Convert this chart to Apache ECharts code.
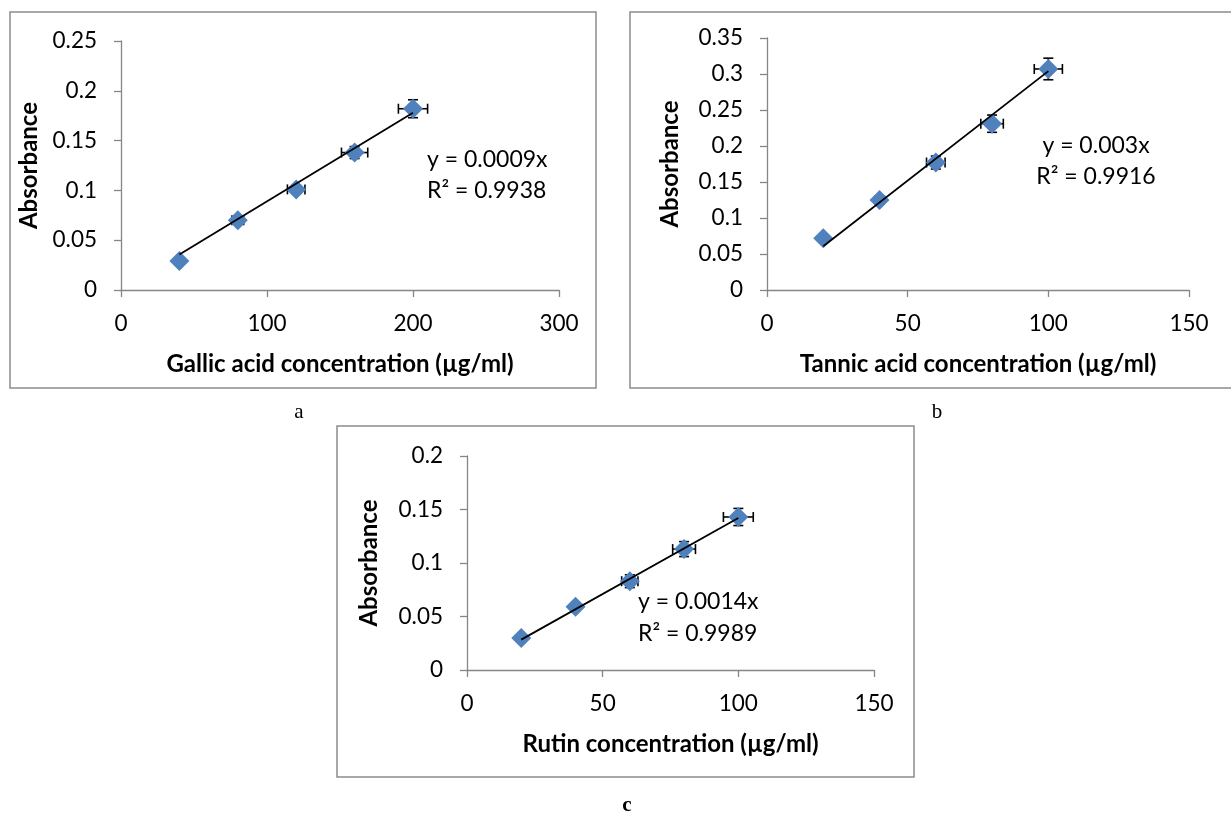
<!DOCTYPE html>
<html>
<head>
<meta charset="utf-8">
<script src="https://cdn.jsdelivr.net/npm/echarts@6/dist/echarts.min.js"></script>
<style>
html, body { margin: 0; padding: 0; background: #fff; }
#chart { width: 1231px; height: 816px; }
</style>
</head>
<body>
<div id="chart"></div>
<script>
// a - gallic acid
var gallicX = [40, 80, 120, 160, 200];
var gallicY = [0.029, 0.070, 0.101, 0.138, 0.182];
var gallicXErr = [0, 4, 6, 9, 10];
var gallicYErr = [0, 0.003, 0.004, 0.006, 0.009];
var gallicSlope = 0.00089;

// b - tannic acid
var tannicX = [20, 40, 60, 80, 100];
var tannicY = [0.072, 0.125, 0.177, 0.231, 0.307];
var tannicXErr = [0, 1.5, 3.3, 4, 5];
var tannicYErr = [0, 0.005, 0.009, 0.012, 0.015];
var tannicSlope = 0.00304;

// c - rutin
var rutinX = [20, 40, 60, 80, 100];
var rutinY = [0.030, 0.059, 0.083, 0.113, 0.143];
var rutinXErr = [0, 1, 3, 4.2, 5.5];
var rutinYErr = [0, 0.003, 0.006, 0.007, 0.008];
var rutinSlope = 0.00142;

var chart = echarts.init(document.getElementById('chart'));

var FONT = 'Lato';
var axisGray = '#868686';
var blue = '#4F81BD';

function xAxisOf(idx, max, interval, name) {
    return {
        type: 'value', gridIndex: idx, min: 0, max: max, interval: interval,
        name: name, nameLocation: 'middle', nameGap: 62,
        nameTextStyle: { fontFamily: FONT, fontWeight: 'bold', fontSize: 24, color: '#000' },
        axisLine: { show: true, lineStyle: { color: axisGray, width: 1.3 } },
        axisTick: { show: true, inside: false, length: 7, lineStyle: { color: axisGray, width: 1.3 } },
        axisLabel: { fontFamily: FONT, fontSize: 22.5, color: '#000', margin: 22 },
        splitLine: { show: false }
    };
}

function yAxisOf(idx, max, interval, gap) {
    return {
        type: 'value', gridIndex: idx, min: 0, max: max, interval: interval,
        name: 'Absorbance', nameLocation: 'middle', nameGap: gap, nameRotate: 90,
        nameTextStyle: { fontFamily: FONT, fontWeight: 'bold', fontSize: 24, color: '#000' },
        axisLine: { show: true, lineStyle: { color: axisGray, width: 1.3 } },
        axisTick: { show: true, inside: false, length: 7, lineStyle: { color: axisGray, width: 1.3 } },
        axisLabel: { fontFamily: FONT, fontSize: 22.5, color: '#000', margin: 24 },
        splitLine: { show: false }
    };
}

function errorBars(idx, xs, ys, xe, ye) {
    return {
        type: 'custom', xAxisIndex: idx, yAxisIndex: idx, z: 2, silent: true,
        data: xs.map(function (x, i) { return [x, ys[i], xe[i], ye[i]]; }),
        renderItem: function (params, api) {
            var x = api.value(0), y = api.value(1), dx = api.value(2), dy = api.value(3);
            var cap = 5;
            var st = { stroke: '#000', lineWidth: 1.6 };
            var kids = [];
            if (dx > 0) {
                var l = api.coord([x - dx, y]), r = api.coord([x + dx, y]);
                kids.push({ type: 'line', shape: { x1: l[0], y1: l[1], x2: r[0], y2: r[1] }, style: st });
                kids.push({ type: 'line', shape: { x1: l[0], y1: l[1] - cap, x2: l[0], y2: l[1] + cap }, style: st });
                kids.push({ type: 'line', shape: { x1: r[0], y1: r[1] - cap, x2: r[0], y2: r[1] + cap }, style: st });
            }
            if (dy > 0) {
                var t = api.coord([x, y + dy]), b = api.coord([x, y - dy]);
                kids.push({ type: 'line', shape: { x1: t[0], y1: t[1], x2: b[0], y2: b[1] }, style: st });
                kids.push({ type: 'line', shape: { x1: t[0] - cap, y1: t[1], x2: t[0] + cap, y2: t[1] }, style: st });
                kids.push({ type: 'line', shape: { x1: b[0] - cap, y1: b[1], x2: b[0] + cap, y2: b[1] }, style: st });
            }
            return { type: 'group', children: kids };
        }
    };
}

function points(idx, xs, ys) {
    return {
        type: 'scatter', xAxisIndex: idx, yAxisIndex: idx, z: 3,
        symbol: 'diamond', symbolSize: 20,
        itemStyle: { color: blue, opacity: 1 },
        data: xs.map(function (x, i) { return [x, ys[i]]; })
    };
}

function trend(idx, xs, slope) {
    var x0 = xs[0], x1 = xs[xs.length - 1];
    return {
        type: 'line', xAxisIndex: idx, yAxisIndex: idx, z: 4,
        symbol: 'none', silent: true,
        lineStyle: { color: '#000', width: 1.8 },
        data: [[x0, slope * x0], [x1, slope * x1]]
    };
}

function frame(x, y, w, h) {
    return { type: 'rect', shape: { x: x, y: y, width: w, height: h },
        style: { fill: null, stroke: '#8c8c8c', lineWidth: 1.5 }, silent: true };
}

function txt(x, y, s, opts) {
    var st = { text: s, x: x, y: y, fill: '#000', font: '23px ' + FONT,
        textAlign: 'left', textVerticalAlign: 'middle' };
    for (var k in opts) st[k] = opts[k];
    return { type: 'text', style: st, silent: true };
}

var option = {
    animation: false,
    backgroundColor: '#fff',
    grid: [
        { left: 121, top: 41, width: 438, height: 249 },
        { left: 767, top: 38, width: 422, height: 252 },
        { left: 467, top: 456, width: 407, height: 214 }
    ],
    xAxis: [
        xAxisOf(0, 300, 100, 'Gallic acid concentration (\u00b5g/ml)'),
        xAxisOf(1, 150, 50, 'Tannic acid concentration (\u00b5g/ml)'),
        xAxisOf(2, 150, 50, 'Rutin concentration (\u00b5g/ml)')
    ],
    yAxis: [
        yAxisOf(0, 0.25, 0.05, 80),
        yAxisOf(1, 0.35, 0.05, 85),
        yAxisOf(2, 0.2, 0.05, 86)
    ],
    graphic: [
        frame(10, 12, 586, 376),
        frame(630, 12, 620, 376),
        frame(337, 426, 577, 351),
        txt(427, 160, 'y = 0.0009x'),
        txt(427, 191, 'R\u00b2 = 0.9938'),
        txt(1096, 146, 'y = 0.003x', { textAlign: 'center' }),
        txt(1096, 177, 'R\u00b2 = 0.9916', { textAlign: 'center' }),
        txt(638, 602, 'y = 0.0014x'),
        txt(638, 634, 'R\u00b2 = 0.9989'),
        txt(299, 412, 'a', { font: '21px "Liberation Serif"', textAlign: 'center' }),
        txt(937, 412, 'b', { font: '21px "Liberation Serif"', textAlign: 'center' }),
        txt(627, 806, 'c', { font: 'bold 21px "Liberation Serif"', textAlign: 'center' })
    ],
    series: [
        errorBars(0, gallicX, gallicY, gallicXErr, gallicYErr),
        points(0, gallicX, gallicY),
        trend(0, gallicX, gallicSlope),
        errorBars(1, tannicX, tannicY, tannicXErr, tannicYErr),
        points(1, tannicX, tannicY),
        trend(1, tannicX, tannicSlope),
        errorBars(2, rutinX, rutinY, rutinXErr, rutinYErr),
        points(2, rutinX, rutinY),
        trend(2, rutinX, rutinSlope)
    ]
};

chart.setOption(option);
</script>
</body>
</html>
